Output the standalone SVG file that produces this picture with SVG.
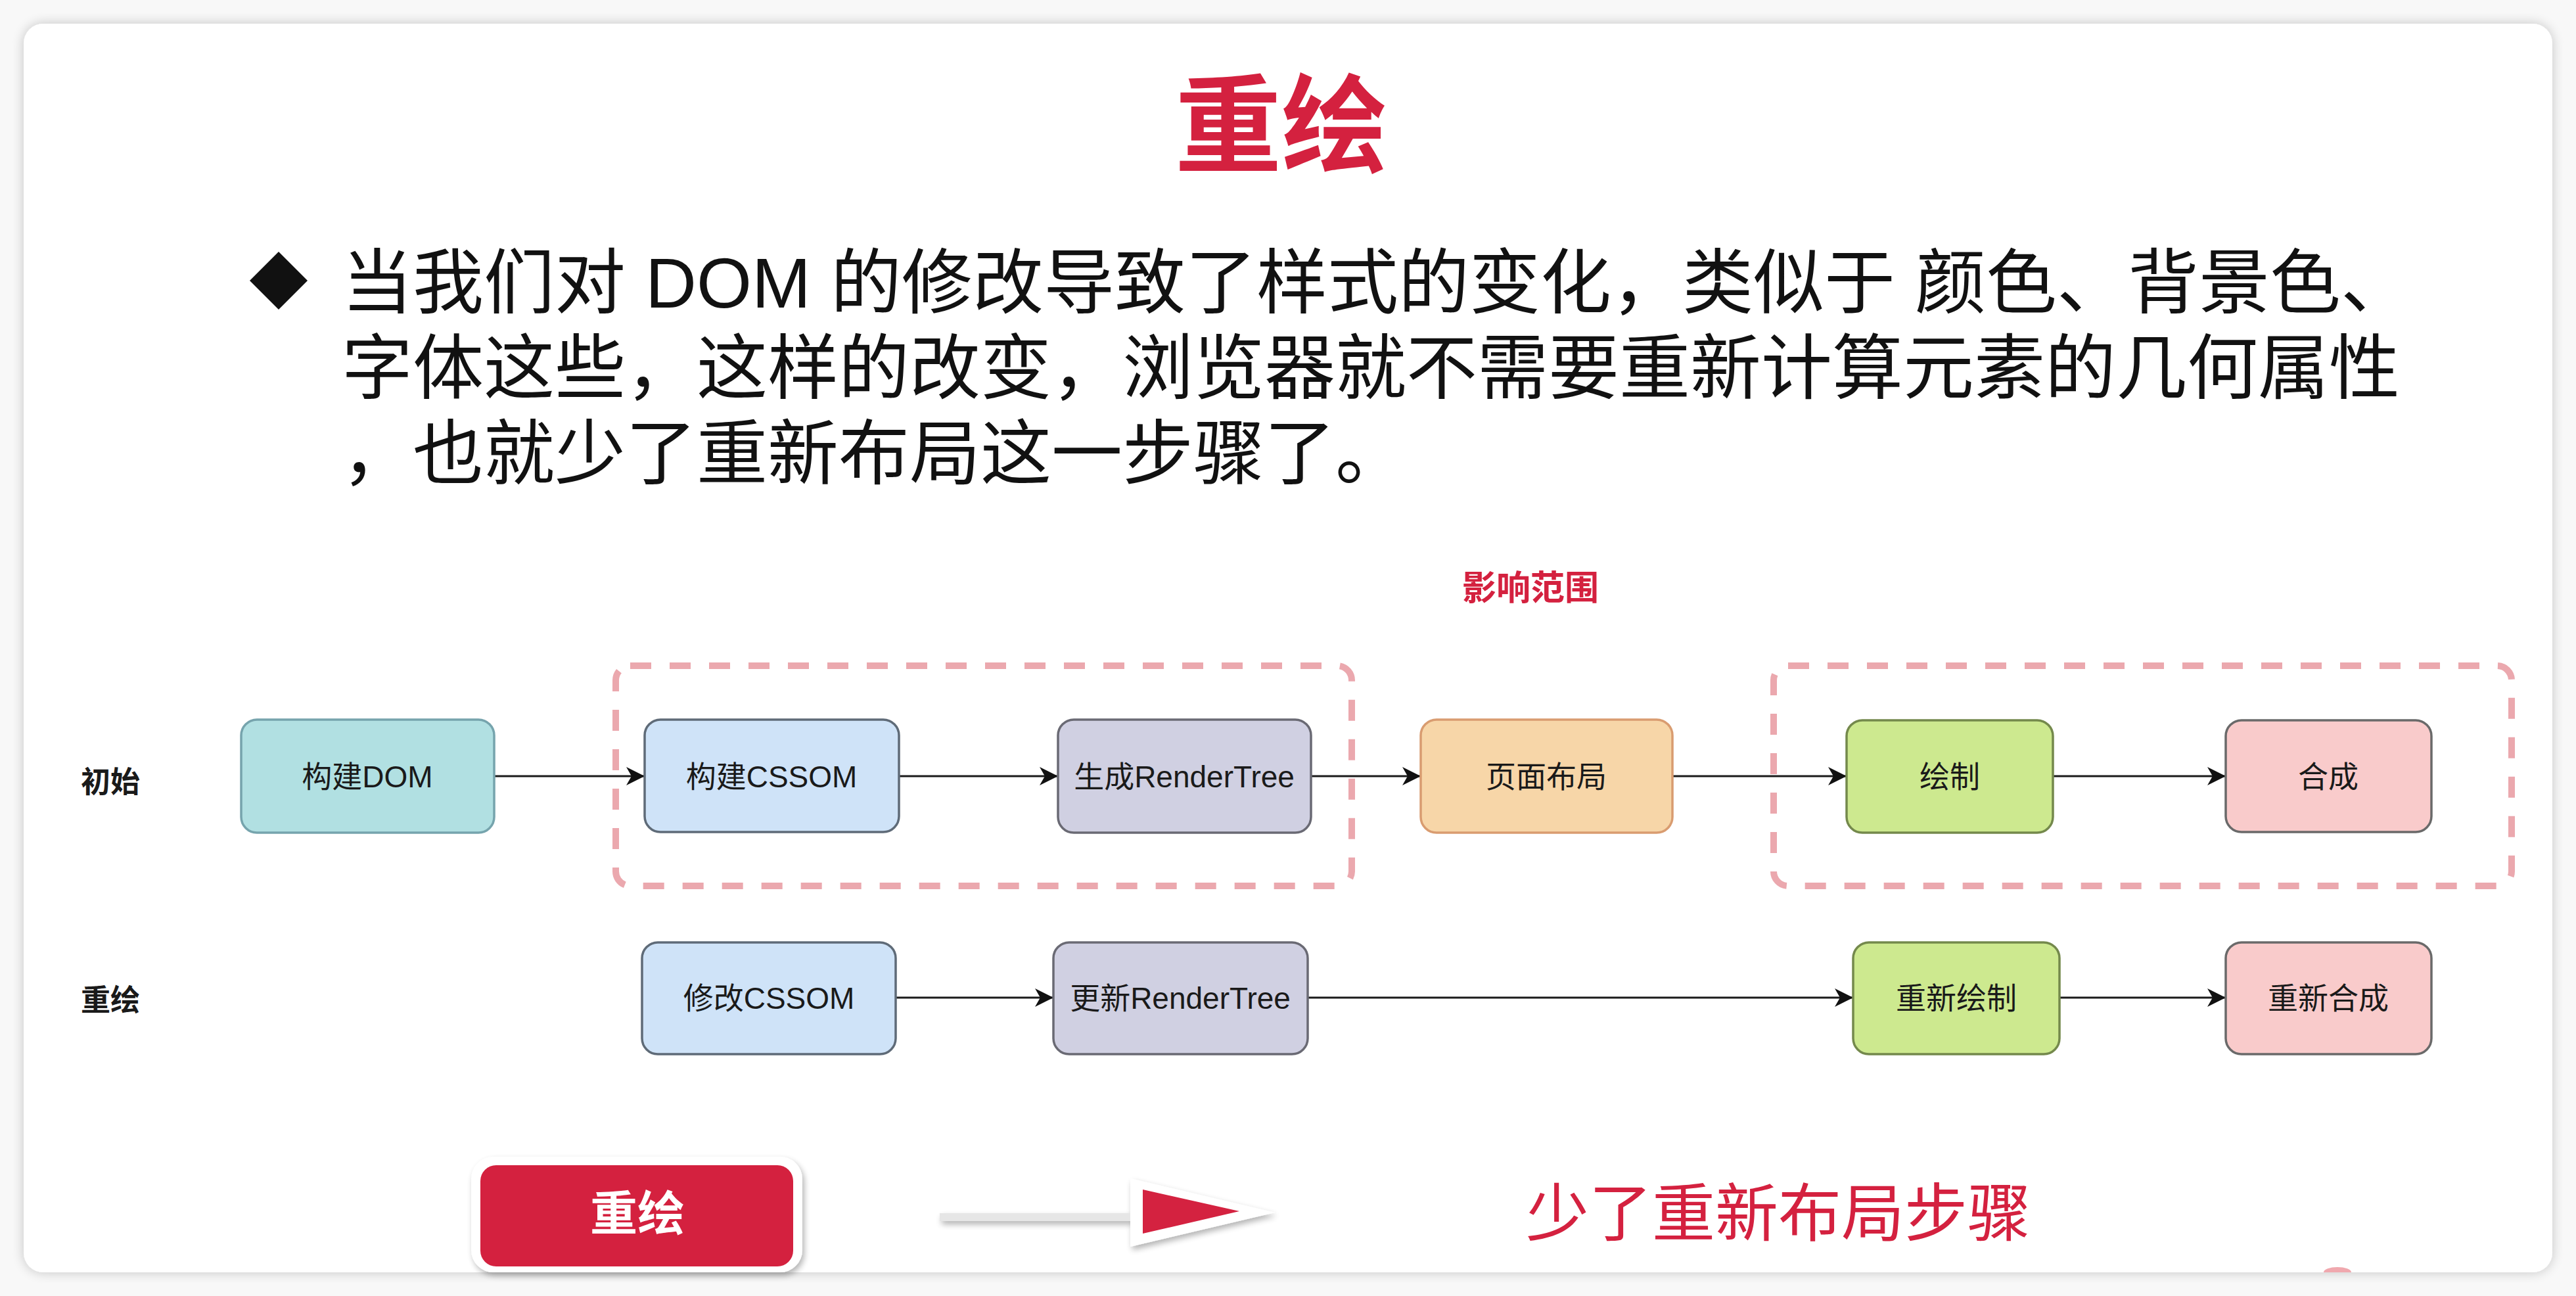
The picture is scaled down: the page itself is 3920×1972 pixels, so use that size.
<svg xmlns="http://www.w3.org/2000/svg" width="3920" height="1972" viewBox="0 0 3920 1972">
<style>
  text { font-family: "Liberation Sans", "Noto Sans CJK SC", sans-serif; }
  .node rect { stroke-width: 3.5; }
  .lbl { font-size: 46px; fill: #1a1a1a; text-anchor: middle; }
  .row { font-size: 45px; font-weight: bold; fill: #1a1a1a; }
  .body { font-size: 108px; fill: #111; }
  .red { fill: #d4213f; }
  .conn line { stroke: #1a1a1a; stroke-width: 3; marker-end: url(#arr); }
  .grp { fill: none; stroke: #eba8ae; stroke-width: 10; stroke-dasharray: 32 28; }
</style>
<defs>
  <marker id="arr" markerUnits="userSpaceOnUse" markerWidth="30" markerHeight="30" viewBox="0 0 30 30" refX="28" refY="15" orient="auto">
    <path d="M0,1 L28,15 L0,29 L8,15 Z" fill="#111"/>
  </marker>
  <filter id="cardShadow" x="-5%" y="-5%" width="110%" height="110%">
    <feGaussianBlur in="SourceAlpha" stdDeviation="9"/>
    <feComponentTransfer><feFuncA type="linear" slope="0.22"/></feComponentTransfer>
    <feMerge><feMergeNode/><feMergeNode in="SourceGraphic"/></feMerge>
  </filter>
  <filter id="btnShadow" x="-20%" y="-30%" width="140%" height="160%">
    <feGaussianBlur in="SourceAlpha" stdDeviation="5"/>
    <feOffset dx="3" dy="5"/>
    <feComponentTransfer><feFuncA type="linear" slope="0.3"/></feComponentTransfer>
    <feMerge><feMergeNode/><feMergeNode in="SourceGraphic"/></feMerge>
  </filter>
</defs>

<rect x="0" y="0" width="3920" height="1972" fill="#f8f8f8"/>
<rect x="36" y="36" width="3848" height="1900" rx="30" fill="#ffffff" filter="url(#cardShadow)"/>

<!-- title -->
<text x="1950" y="250" text-anchor="middle" font-size="162" font-weight="bold" class="red">重绘</text>

<!-- bullet -->
<polygon points="424,383 468,427 424,471 380,427" fill="#111"/>
<text class="body" x="520" y="468">当我们对 DOM 的修改导致了样式的变化，类似于 颜色、背景色、</text>
<text class="body" x="520" y="598">字体这些，这样的改变，浏览器就不需要重新计算元素的几何属性</text>
<text class="body" x="520" y="728">，也就少了重新布局这一步骤了。</text>

<!-- diagram -->
<text x="2329" y="913" text-anchor="middle" font-size="52" font-weight="bold" class="red">影响范围</text>

<rect class="grp" x="937" y="1013" width="1120" height="335" rx="22"/>
<rect class="grp" x="2699" y="1013" width="1123" height="335" rx="22"/>

<text class="row" x="123" y="1206">初始</text>
<text class="row" x="123" y="1538">重绘</text>

<g class="conn">
  <line x1="752" y1="1181" x2="981" y2="1181"/>
  <line x1="1368" y1="1181" x2="1610" y2="1181"/>
  <line x1="1995" y1="1181" x2="2162" y2="1181"/>
  <line x1="2545" y1="1181" x2="2810" y2="1181"/>
  <line x1="3124" y1="1181" x2="3387" y2="1181"/>
  <line x1="1363" y1="1518" x2="1603" y2="1518"/>
  <line x1="1990" y1="1518" x2="2820" y2="1518"/>
  <line x1="3134" y1="1518" x2="3387" y2="1518"/>
</g>

<g id="n-dom" class="node">
  <rect x="367" y="1095" width="385" height="172" rx="24" fill="#b1e0e2" stroke="#76a4ad"/>
  <text class="lbl" x="559" y="1198">构建DOM</text>
</g>
<g id="n-cssom" class="node">
  <rect x="981" y="1095" width="387" height="171" rx="24" fill="#cfe3f8" stroke="#5f6b78"/>
  <text class="lbl" x="1174" y="1198">构建CSSOM</text>
</g>
<g id="n-render" class="node">
  <rect x="1610" y="1095" width="385" height="172" rx="24" fill="#d0d0e2" stroke="#6a6a74"/>
  <text class="lbl" x="1802" y="1198">生成RenderTree</text>
</g>
<g id="n-layout" class="node">
  <rect x="2162" y="1095" width="383" height="172" rx="24" fill="#f7d6a8" stroke="#d99c70"/>
  <text class="lbl" x="2353" y="1198">页面布局</text>
</g>
<g id="n-paint" class="node">
  <rect x="2810" y="1096" width="314" height="171" rx="24" fill="#cde98f" stroke="#74894c"/>
  <text class="lbl" x="2967" y="1198">绘制</text>
</g>
<g id="n-composite" class="node">
  <rect x="3387" y="1096" width="313" height="170" rx="24" fill="#f9cbcb" stroke="#6a6a6a"/>
  <text class="lbl" x="3543" y="1198">合成</text>
</g>
<g id="n-modcssom" class="node">
  <rect x="977" y="1434" width="386" height="170" rx="24" fill="#cfe3f8" stroke="#5f6b78"/>
  <text class="lbl" x="1170" y="1535">修改CSSOM</text>
</g>
<g id="n-updrender" class="node">
  <rect x="1603" y="1434" width="387" height="170" rx="24" fill="#d0d0e2" stroke="#6a6a74"/>
  <text class="lbl" x="1796" y="1535">更新RenderTree</text>
</g>
<g id="n-repaint" class="node">
  <rect x="2820" y="1434" width="314" height="170" rx="24" fill="#cde98f" stroke="#74894c"/>
  <text class="lbl" x="2977" y="1535">重新绘制</text>
</g>
<g id="n-recomposite" class="node">
  <rect x="3387" y="1434" width="313" height="170" rx="24" fill="#f9cbcb" stroke="#6a6a6a"/>
  <text class="lbl" x="3543" y="1535">重新合成</text>
</g>

<!-- bottom -->
<g id="btn">
  <rect x="717" y="1760" width="504" height="176" rx="34" fill="#ffffff" filter="url(#btnShadow)"/>
  <rect x="731" y="1773" width="476" height="154" rx="24" fill="#d4213f"/>
  <text x="970" y="1872" text-anchor="middle" font-size="72" font-weight="bold" fill="#ffffff">重绘</text>
</g>
<g id="bigarrow" filter="url(#btnShadow)">
  <rect x="1430" y="1846" width="296" height="12" fill="#e6e6e6"/>
  <polygon points="1720,1793 1940,1845 1720,1897" fill="#ffffff"/>
  <polygon points="1739,1810 1886,1843 1739,1877" fill="#d4213f"/>
</g>
<text x="2322" y="1880" font-size="96" class="red">少了重新布局步骤</text>

<path d="M3536,1936 A21,8 0 0 1 3578,1936 Z" fill="#f0a8ae"/>
</svg>
